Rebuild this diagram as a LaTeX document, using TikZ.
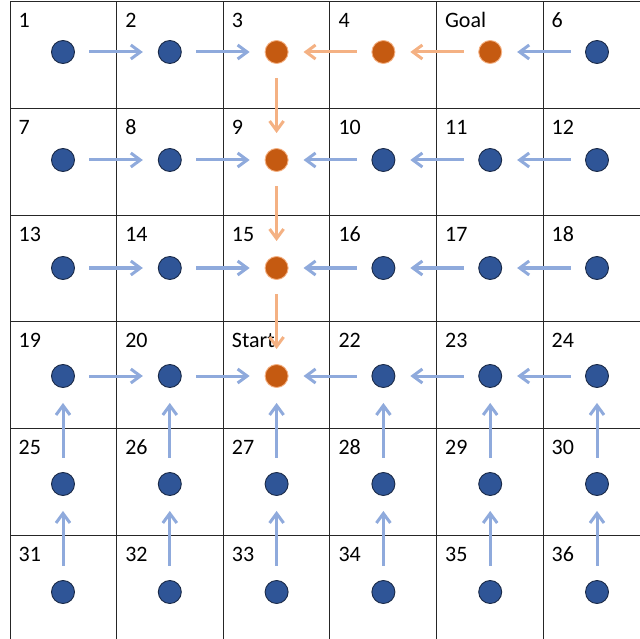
\documentclass[tikz,border=0pt]{standalone}
\usepackage{fontspec}
\setmainfont{Carlito}
\usetikzlibrary{arrows.meta}
\definecolor{bluefill}{HTML}{2F5597}
\definecolor{blueline}{HTML}{1A2A48}
\definecolor{orangefill}{HTML}{C55A11}
\definecolor{orangeline}{HTML}{F4B183}
\definecolor{bluearrow}{HTML}{8FAADC}
\begin{document}
\begin{tikzpicture}[x=1pt,y=-1pt,
  bstate/.style={circle,draw=blueline,fill=bluefill,minimum size=23pt,inner sep=0pt,line width=0.9pt},
  ostate/.style={circle,draw=orangeline,fill=orangefill,minimum size=23pt,inner sep=0pt,line width=0.9pt},
  lab/.style={anchor=base west,inner sep=0pt,font=\fontsize{22}{22}\selectfont},
  barrow/.style={draw=bluearrow,line width=3pt,-{Straight Barb[length=9.5pt,width=14pt]},shorten <=14.5pt,shorten >=15pt},
  oarrow/.style={barrow,draw=orangeline},
  gridline/.style={line width=1pt,draw=black!85}]
\useasboundingbox (0,0) rectangle (640,639);
\foreach \k in {0,...,5} {
  \draw[gridline] ({10+106.6*\k},2) -- ({10+106.6*\k},639);
  \draw[gridline] (10,{2+106.6*\k}) -- (640,{2+106.6*\k});
}
\foreach \i/\t/\s in {1/1/bstate,2/2/bstate,3/3/ostate,4/4/ostate,5/Goal/ostate,6/6/bstate,
  7/7/bstate,8/8/bstate,9/9/ostate,10/10/bstate,11/11/bstate,12/12/bstate,
  13/13/bstate,14/14/bstate,15/15/ostate,16/16/bstate,17/17/bstate,18/18/bstate,
  19/19/bstate,20/20/bstate,21/Start/ostate,22/22/bstate,23/23/bstate,24/24/bstate,
  25/25/bstate,26/26/bstate,27/27/bstate,28/28/bstate,29/29/bstate,30/30/bstate,
  31/31/bstate,32/32/bstate,33/33/bstate,34/34/bstate,35/35/bstate,36/36/bstate} {
  \pgfmathtruncatemacro\r{(\i-1)/6}
  \pgfmathtruncatemacro\c{mod(\i-1,6)}
  \node[\s] (c\i) at ({63+106.8*\c},{52+108*\r}) {};
  \node[lab] (l\i) at ({18.5+106.6*\c},{28+106.6*\r}) {\t};
}
\foreach \a/\b in {1/2,2/3,7/8,8/9,13/14,14/15,19/20,20/21,6/5,10/9,11/10,12/11,
  16/15,17/16,18/17,22/21,23/22,24/23,25/19,31/25,26/20,32/26,27/21,33/27,
  28/22,34/28,29/23,35/29,30/24,36/30}
  \draw[barrow] (c\a) -- (c\b);
\foreach \a/\b in {4/3,5/4,3/9,9/15,15/21}
  \draw[oarrow] (c\a) -- (c\b);
\end{tikzpicture}
\end{document}
